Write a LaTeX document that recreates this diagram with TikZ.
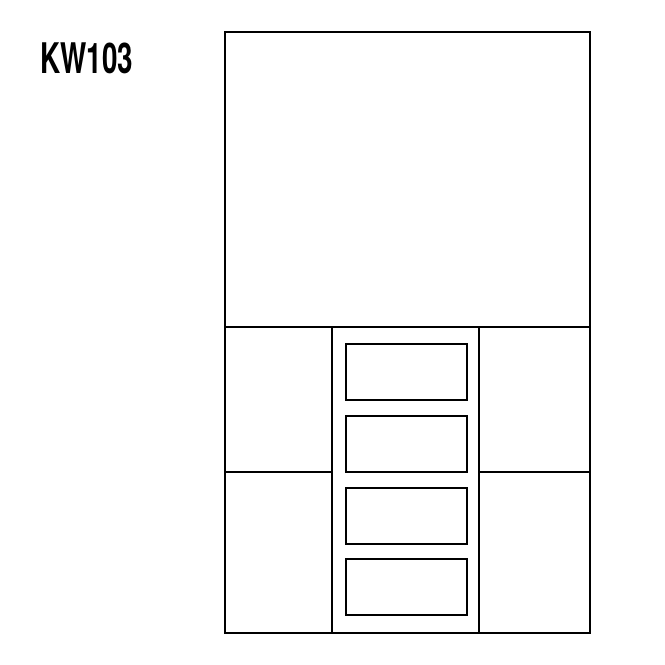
\documentclass[tikz,border=0pt]{standalone}
\usepackage{fontspec}
\usepackage{tikz}
\newfontfamily\codefont{TeX Gyre Heros}[FakeStretch=0.66]

\begin{document}
\begin{tikzpicture}[
                x=0.02cm, y=-0.02cm,
                wall/.style = {
                    draw,
                    line width = 1.4pt
                },
                pane/.style = {
                    draw,
                    line width = 1.4pt
                }
            ]

            \useasboundingbox (0,0) rectangle (665,665);

            % model code
            \node[anchor=base west, inner sep=0pt, font=\codefont\bfseries\fontsize{24}{28}\selectfont] (code) at (40,73.5) {KW103};

            % outer frame and top panel
            \draw[wall] (225,32) rectangle (590,633);
            \draw[wall] (225,327) -- (590,327);

            % side panels
            \draw[wall] (332,327) -- (332,633);
            \draw[wall] (479,327) -- (479,633);
            \draw[wall] (225,472) -- (332,472);
            \draw[wall] (479,472) -- (590,472);

            % glass panes
            \foreach \t in {344,416,488,559}
                \draw[pane] (346,\t) rectangle (467,\t+56);

         \end{tikzpicture}
\end{document}
